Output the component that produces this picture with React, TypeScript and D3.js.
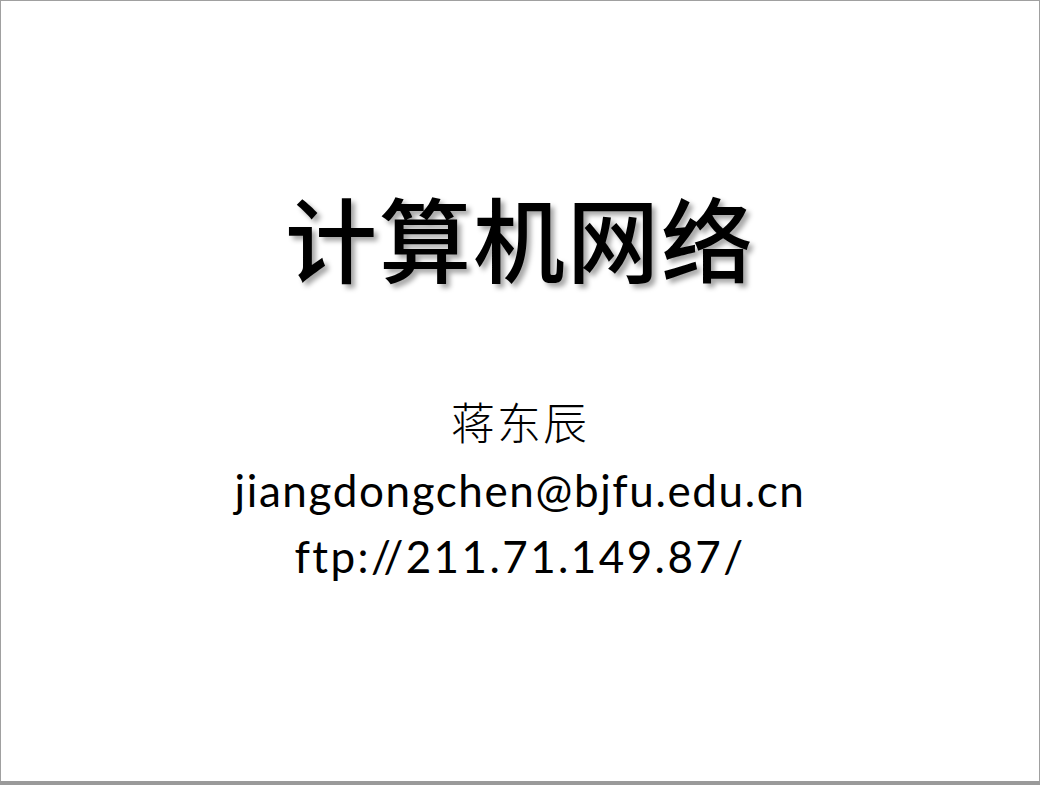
import React from "react";
import * as d3 from "d3";

const lines = ["计算机网络", "蒋东辰", "jiangdongchen@bjfu.edu.cn", "ftp://211.71.149.87/"];
const sizes = [92, 44, 44, 44];
const spacing = [2, 2, 1.6, 2.4];
const baselines = [276, 440, 507, 573];

const W = 1040;
const H = 785;

export default function App() {
  const x = d3.scaleLinear().domain([0, 1]).range([0, W]);
  const fonts = ['"Noto Sans CJK SC", sans-serif', '"Noto Sans CJK SC", serif', "Lato, sans-serif", "Lato, sans-serif"];
  return (
    <svg width={W} height={H} style={{ position: "fixed", left: 0, top: 0, background: "#fff" }}>
      <defs>
        <filter id="shadow" x="-10%" y="-10%" width="130%" height="130%">
          <feDropShadow dx="4" dy="4" stdDeviation="2.5" floodColor="#000" floodOpacity="0.35" />
        </filter>
      </defs>
      <rect x={0.5} y={0.5} width={W - 1} height={H - 1} fill="#fff" stroke="#a0a0a0" />
      <rect x={0} y={781} width={W} height={4} fill="#9a9a9a" />
      {lines.map((t, i) => (
        <text
          key={i}
          x={x(0.5)}
          y={baselines[i]}
          textAnchor="middle"
          fontSize={sizes[i]}
          fontFamily={fonts[i]}
          fontWeight={i === 0 ? 500 : i === 1 ? 300 : 400}
          letterSpacing={spacing[i]}
          filter={i === 0 ? "url(#shadow)" : undefined}
          fill="#000"
        >
          {t}
        </text>
      ))}
    </svg>
  );
}
